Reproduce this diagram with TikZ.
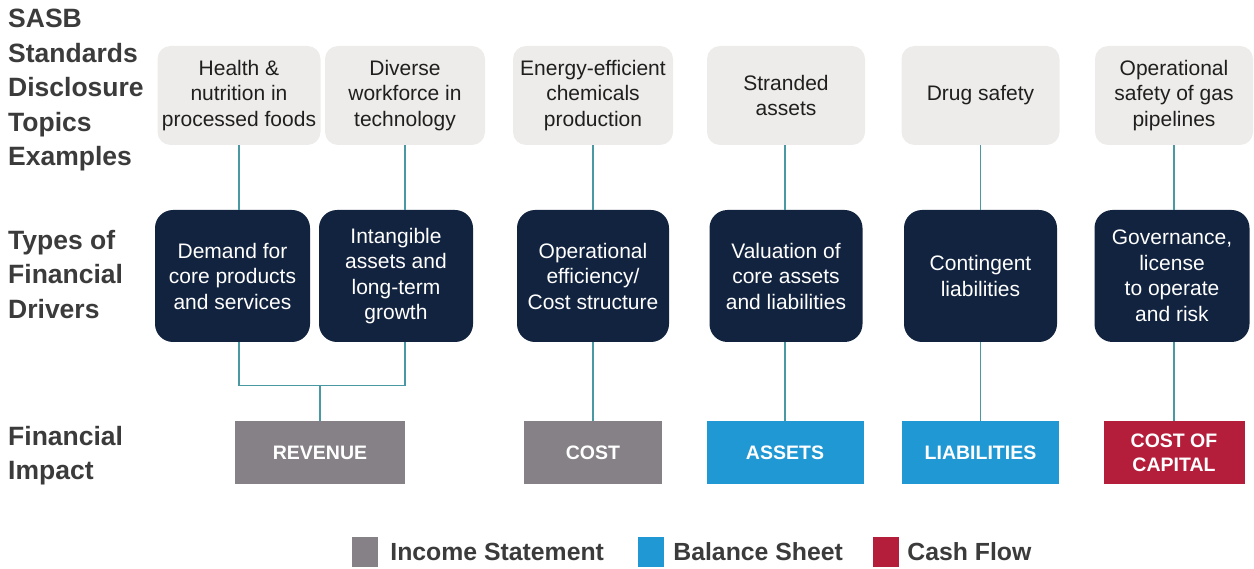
\documentclass[tikz,border=0pt]{standalone}
\usepackage{fontspec}
\setmainfont{Liberation Sans}
\usetikzlibrary{positioning}

\definecolor{topicgray}{HTML}{EDECEA}
\definecolor{drivernavy}{HTML}{12233F}
\definecolor{incomegray}{HTML}{858186}
\definecolor{balanceblue}{HTML}{1F98D4}
\definecolor{cashred}{HTML}{B41E3B}
\definecolor{linkteal}{HTML}{4A98A3}
\definecolor{headgray}{HTML}{3B3B3B}

\begin{document}
\begin{tikzpicture}[x=1pt,y=-1pt,
 topic/.style={fill=topicgray, rounded corners=13pt, minimum height=99pt, inner sep=0pt,
   align=center, text=black!88, font=\fontsize{21}{25.5}\selectfont},
 driver/.style={fill=drivernavy, rounded corners=18pt, minimum height=132pt, inner sep=0pt,
   align=center, text=white, font=\fontsize{21}{25.5}\selectfont},
 impact/.style={minimum height=63pt, inner sep=0pt, align=center, text=white,
   font=\bfseries\fontsize{19.5}{24}\selectfont},
 link/.style={draw=linkteal, line width=1.2pt},
 heading/.style={anchor=north west, align=left, inner sep=0pt, text=headgray,
   font=\bfseries\fontsize{26.5}{34.5}\selectfont},
 legbox/.style={minimum width=26pt, minimum height=30pt, inner sep=0pt},
 legtext/.style={inner sep=0pt, text=headgray, font=\bfseries\fontsize{24.8}{28}\selectfont}]

\useasboundingbox (0,0) rectangle (1254,569);

% row titles
\node [heading] (hTopics) at (8,9) {SASB\\Standards\\Disclosure\\Topics\\Examples};
\node [heading] (hDrivers) at (8,230) {Types of\\Financial\\Drivers};
\node [heading] (hImpact) at (8,426) {Financial\\Impact};

% disclosure topics
\node [topic, minimum width=163pt] (t1) at (239,95.5) {Health \&\\nutrition in\\processed foods};
\node [topic, minimum width=160pt] (t2) at (405,95.5) {Diverse\\workforce in\\technology};
\node [topic, minimum width=160pt] (t3) at (593,95.5) {Energy-efficient\\chemicals\\production};
\node [topic, minimum width=158pt] (t4) at (786,95.5) {Stranded\\assets};
\node [topic, minimum width=158pt] (t5) at (980.5,95.5) {Drug safety};
\node [topic, minimum width=158pt] (t6) at (1174,95.5) {Operational\\safety of gas\\pipelines};

% financial drivers
\node [driver, minimum width=155pt] (d1) at (232.5,276) {Demand for\\core products\\and services};
\node [driver, minimum width=154pt] (d2) at (396,276) {Intangible\\assets and\\long-term\\growth};
\node [driver, minimum width=152pt] (d3) at (593,276) {Operational\\efficiency/\\Cost structure};
\node [driver, minimum width=153pt] (d4) at (786,276) {Valuation of\\core assets\\and liabilities};
\node [driver, minimum width=153pt] (d5) at (980.5,276) {Contingent\\liabilities};
\node [driver, minimum width=155pt] (d6) at (1172,276) {Governance,\\license\\to operate\\and risk};

% financial impact
\node [impact, fill=incomegray, minimum width=170pt] (rev) at (320,452.5) {REVENUE};
\node [impact, fill=incomegray, minimum width=138pt] (cost) at (593,452.5) {COST};
\node [impact, fill=balanceblue, minimum width=157pt] (assets) at (785,452.5) {ASSETS};
\node [impact, fill=balanceblue, minimum width=157pt] (liab) at (980.5,452.5) {LIABILITIES};
\node [impact, fill=cashred, minimum width=141pt] (coc) at (1174,452.5) {COST OF\\CAPITAL};

% connectors
\coordinate [above=35pt of rev] (join);
\draw [link] (t1.south) -- (t1.south |- d1.north);
\draw [link] (t2.south) -- (t2.south |- d2.north);
\draw [link] (d1.south -| t1.south) |- (join) -| (d2.south -| t2.south);
\draw [link] (join) -- (rev.north);

\draw [link] (t3.south) -- (d3.north);
\draw [link] (d3.south) -- (cost.north);
\draw [link] (t4.south -| assets.north) -- (d4.north -| assets.north);
\draw [link] (d4.south -| assets.north) -- (assets.north);
\draw [link] (t5.south) -- (d5.north);
\draw [link] (d5.south) -- (liab.north);
\draw [link] (t6.south) -- (t6.south |- d6.north);
\draw [link] (d6.south -| t6.south) -- (coc.north);

% legend
\node [legbox, fill=incomegray] (lg1) at (365,552) {};
\node [legtext, right=12pt of lg1] (lt1) {Income Statement};
\node [legbox, fill=balanceblue] (lg2) at (651,552) {};
\node [legtext, right=9pt of lg2] (lt2) {Balance Sheet};
\node [legbox, fill=cashred] (lg3) at (886,552) {};
\node [legtext, right=8pt of lg3] (lt3) {Cash Flow};

\end{tikzpicture}
\end{document}
